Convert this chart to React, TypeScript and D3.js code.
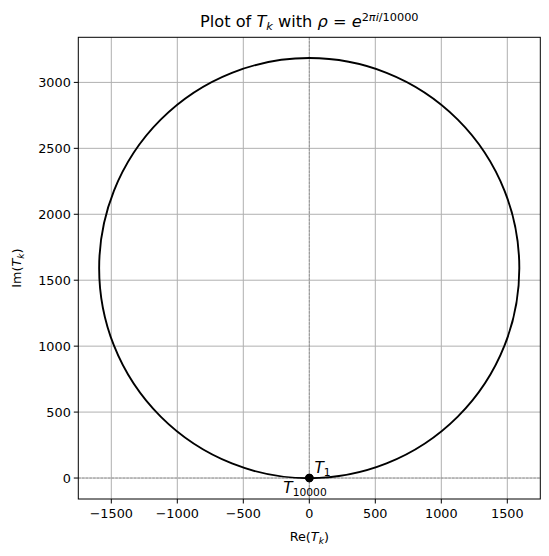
import React from "react";
import * as d3 from "d3";

const xTicks = [-1500, -1000, -500, 0, 500, 1000, 1500];
const yTicks = [0, 500, 1000, 1500, 2000, 2500, 3000];
const circleCenter = [-0.5, 1591.55];
const circleRadius = [1591.55];
const pointRe = [1, 0];
const pointIm = [0.0006, 0];
const pointBase = ["T", "T"];
const pointSub = ["1", "10000"];

const W = 549, H = 556;
const L = 78.3, R = 540.3, T = 37.3, B = 499;
const FONT = "DejaVu Sans";

export default function App() {
  const x = d3.scaleLinear().domain([-1750, 1750]).range([L, R]);
  const y = d3.scaleLinear().domain([-159, 3342]).range([B, T]);
  const r = x(circleRadius[0]) - x(0);
  const tickFs = 12.8;
  const labFs = 15.3;
  return (
    <svg width={W} height={H} style={{ position: "absolute", left: 0, top: 0, background: "#fff" }} fontFamily={FONT}>
      <rect x={0} y={0} width={W} height={H} fill="#fff" />
      {/* grid */}
      {xTicks.map((t) => (
        <line key={"gx" + t} x1={x(t)} x2={x(t)} y1={T} y2={B} stroke="#b0b0b0" strokeWidth={1} />
      ))}
      {yTicks.map((t) => (
        <line key={"gy" + t} x1={L} x2={R} y1={y(t)} y2={y(t)} stroke="#b0b0b0" strokeWidth={1} />
      ))}
      {/* zero lines dashed */}
      <line x1={x(0)} x2={x(0)} y1={T} y2={B} stroke="#808080" strokeWidth={0.7} strokeDasharray="2.5,1.2" />
      <line x1={L} x2={R} y1={y(0)} y2={y(0)} stroke="#808080" strokeWidth={0.7} strokeDasharray="2.5,1.2" />
      {/* circle */}
      <circle cx={x(circleCenter[0])} cy={y(circleCenter[1])} r={r} fill="none" stroke="#000" strokeWidth={1.9} />
      {/* points */}
      {pointRe.map((re, i) => (
        <circle key={"p" + i} cx={x(re)} cy={y(pointIm[i])} r={4.2} fill="#000" />
      ))}
      {/* point labels */}
      <text x={x(pointRe[0]) + 5} y={y(pointIm[0]) - 5} fontSize={labFs}>
        <tspan fontStyle="italic">{pointBase[0]}</tspan>
        <tspan fontSize={labFs * 0.7} dy={2.5}>{pointSub[0]}</tspan>
      </text>
      <text x={x(pointRe[1]) - 26} y={y(pointIm[1]) + 14.5} fontSize={labFs}>
        <tspan fontStyle="italic">{pointBase[1]}</tspan>
        <tspan fontSize={labFs * 0.7} dy={3}>{pointSub[1]}</tspan>
      </text>
      {/* spines */}
      <rect x={L} y={T} width={R - L} height={B - T} fill="none" stroke="#000" strokeWidth={1} />
      {/* x ticks */}
      {xTicks.map((t) => (
        <g key={"xt" + t}>
          <line x1={x(t)} x2={x(t)} y1={B} y2={B + 4.5} stroke="#000" strokeWidth={1} />
          <text x={x(t)} y={B + 18.5} fontSize={tickFs} textAnchor="middle">
            {t < 0 ? "\u2212" + Math.abs(t) : String(t)}
          </text>
        </g>
      ))}
      {/* y ticks */}
      {yTicks.map((t) => (
        <g key={"yt" + t}>
          <line x1={L - 4.5} x2={L} y1={y(t)} y2={y(t)} stroke="#000" strokeWidth={1} />
          <text x={L - 7.5} y={y(t) + 4.6} fontSize={tickFs} textAnchor="end">
            {String(t)}
          </text>
        </g>
      ))}
      {/* axis labels */}
      <text x={(L + R) / 2} y={541} fontSize={tickFs} textAnchor="middle">
        Re(<tspan fontStyle="italic">T</tspan>
        <tspan fontStyle="italic" fontSize={9} dy={2.5}>k</tspan>
        <tspan dy={-2.5}>)</tspan>
      </text>
      <text transform={`translate(21,${(T + B) / 2}) rotate(-90)`} fontSize={tickFs} textAnchor="middle">
        Im(<tspan fontStyle="italic">T</tspan>
        <tspan fontStyle="italic" fontSize={9} dy={2.5}>k</tspan>
        <tspan dy={-2.5}>)</tspan>
      </text>
      {/* title */}
      <text x={(L + R) / 2} y={27} fontSize={16.2} textAnchor="middle">
        Plot of <tspan fontStyle="italic">T</tspan>
        <tspan fontStyle="italic" fontSize={11.3} dy={3}>k</tspan>
        <tspan dy={-3}> with </tspan>
        <tspan fontStyle="italic">ρ</tspan>
        <tspan> = </tspan>
        <tspan fontStyle="italic">e</tspan>
        <tspan fontSize={11.3} dy={-6.5}>2</tspan>
        <tspan fontSize={11.3} fontStyle="italic">πi</tspan>
        <tspan fontSize={11.3}>/10000</tspan>
      </text>
    </svg>
  );
}
